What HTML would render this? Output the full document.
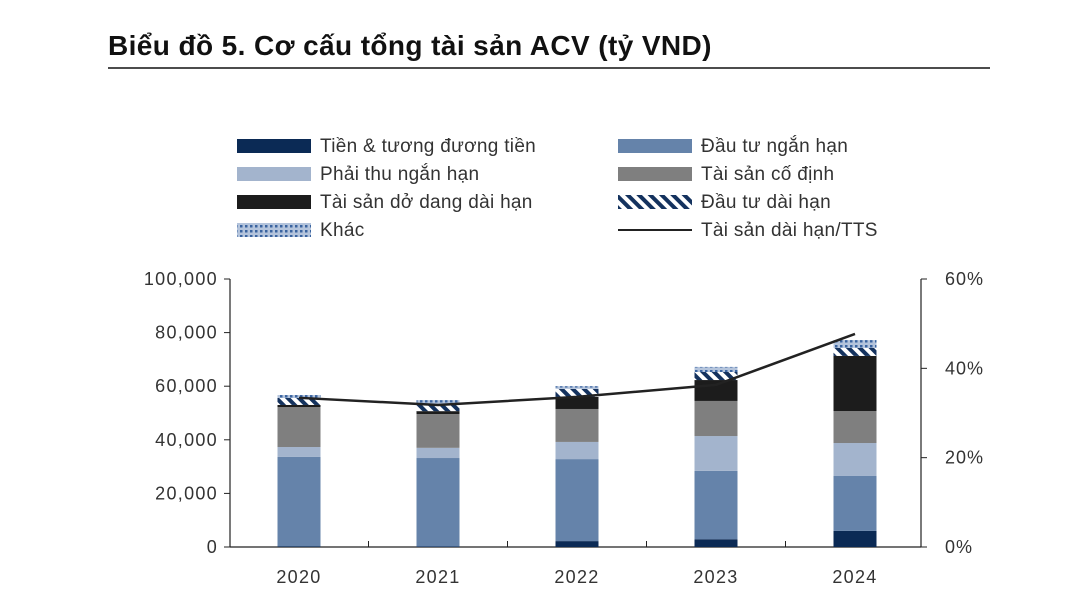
<!DOCTYPE html>
<html><head><meta charset="utf-8"><style>
body{margin:0;background:#fff;width:1075px;height:608px;overflow:hidden;font-family:"Liberation Sans","DejaVu Sans",sans-serif}
svg text{font-family:"Liberation Sans","DejaVu Sans",sans-serif}
</style></head><body>
<svg id="c" width="1075" height="608">
<defs>
<pattern id="stripe" width="8" height="8" patternUnits="userSpaceOnUse" patternTransform="rotate(-45)"><rect width="8" height="8" fill="#fff"/><rect width="4" height="8" fill="#14325e"/></pattern>
<pattern id="dots" width="5" height="5" patternUnits="userSpaceOnUse"><rect width="5" height="5" fill="#b4c4dc"/><rect width="2.5" height="2.5" fill="#3a64a0"/></pattern>
</defs>
<text x="108" y="55" font-size="28" font-weight="bold" fill="#111" letter-spacing="0.4">Biểu đồ 5. Cơ cấu tổng tài sản ACV (tỷ VND)</text>
<line x1="108" y1="68" x2="990" y2="68" stroke="#111" stroke-width="1.5"/>
<g id="legend"></g>
<g id="plot"></g>
</svg>
<script>
const categories=["2020","2021","2022","2023","2024"];
const seriesNames=["Tiền & tương đương tiền","Đầu tư ngắn hạn","Phải thu ngắn hạn","Tài sản cố định","Tài sản dở dang dài hạn","Đầu tư dài hạn","Khác"];
const tien=[0.3,0.2,2.2,2.9,6.0];
const dtnh=[33.3,33.0,30.6,25.5,20.5];
const phaithu=[3.7,3.8,6.4,13.0,12.3];
const tscd=[14.9,12.6,12.3,13.1,11.9];
const dodang=[0.8,1.1,4.5,7.8,20.6];
const dtdh=[2.6,2.3,3.0,3.0,3.0];
const khac=[1.1,1.8,1.0,1.9,2.9];
const ratio=[33.4,31.8,33.6,36.3,47.7];
const leftTicks=["0","20,000","40,000","60,000","80,000","100,000"];
const rightTicks=["0%","20%","40%","60%"];
const series=[tien,dtnh,phaithu,tscd,dodang,dtdh,khac];
const fills=["#0b2a55","#6583aa","#a3b4cd","#7f7f7f","#1c1c1c","url(#stripe)","url(#dots)"];
const NS="http://www.w3.org/2000/svg";
const X0=230,X1=921,Y0=547,Y1=279;
const yL=v=>Y0-(v/100)*(Y0-Y1);
const yR=p=>Y0-(p/60)*(Y0-Y1);
const step=139, xC=i=>299+i*step, bw=43;
function mk(t,a,p){const e=document.createElementNS(NS,t);for(const k in a)e.setAttribute(k,a[k]);(p||document.getElementById('plot')).appendChild(e);return e;}
let e=mk('line',{x1:X0,y1:Y1,x2:X0,y2:Y0,stroke:'#222','stroke-width':1.2});


e=mk('line',{x1:X1,y1:Y1,x2:X1,y2:Y0,stroke:'#222','stroke-width':1.2});


e=mk('line',{x1:X0,y1:Y0,x2:X1,y2:Y0,stroke:'#222','stroke-width':1.2});


leftTicks.forEach((t,i)=>{const y=yL(i*20);
 mk('line',{x1:X0-6,y1:y,x2:X0,y2:y,stroke:'#222'});
 const tx=mk('text',{x:218,y:y+6,'text-anchor':'end','font-size':18,'letter-spacing':1.3,fill:'#333'});tx.textContent=t;
 
 });
rightTicks.forEach((t,i)=>{const y=yR(i*20);
 mk('line',{x1:X1,y1:y,x2:X1+6,y2:y,stroke:'#222'});
 const tx=mk('text',{x:945,y:y+6,'font-size':18,'letter-spacing':1,fill:'#333'});tx.textContent=t;
 
 });
categories.forEach((c,i)=>{
 if(i>0)mk('line',{x1:xC(i)-step/2,y1:Y0,x2:xC(i)-step/2,y2:Y0-6,stroke:'#222'});
 const tx=mk('text',{x:xC(i),y:583,'text-anchor':'middle','font-size':18,'letter-spacing':1.3,fill:'#333'});tx.textContent=c;
 
 
 let cum=0;
 series.forEach((s,k)=>{const y1=yL(cum),y2=yL(cum+s[i]);cum+=s[i];
  const r=mk('rect',{x:xC(i)-bw/2,y:y2,width:bw,height:Math.max(0,y1-y2),fill:fills[k]});
  
  });
});
const pl=mk('polyline',{points:ratio.map((p,i)=>xC(i)+','+yR(p)).join(' '),fill:'none',stroke:'#222','stroke-width':2.5});


const lg=document.getElementById('legend');
const items=[[0,237,146],[1,618,146],[2,237,174],[3,618,174],[4,237,202],[5,618,202],[6,237,230],[7,618,230]];
const names=seriesNames.concat(["Tài sản dài hạn/TTS"]);
items.forEach(([k,x,y])=>{
 const g=mk('g',{},lg);
 
 
 if(k<7)mk('rect',{x:x,y:y-7,width:74,height:14,fill:fills[k]},g);
 else mk('line',{x1:x,y1:y,x2:x+74,y2:y,stroke:'#222','stroke-width':2},g);
 const t=mk('text',{x:x+83,y:y+6,'font-size':19,'letter-spacing':0.3,fill:'#333'},g);t.textContent=names[k];
});
</script>
</body></html>
